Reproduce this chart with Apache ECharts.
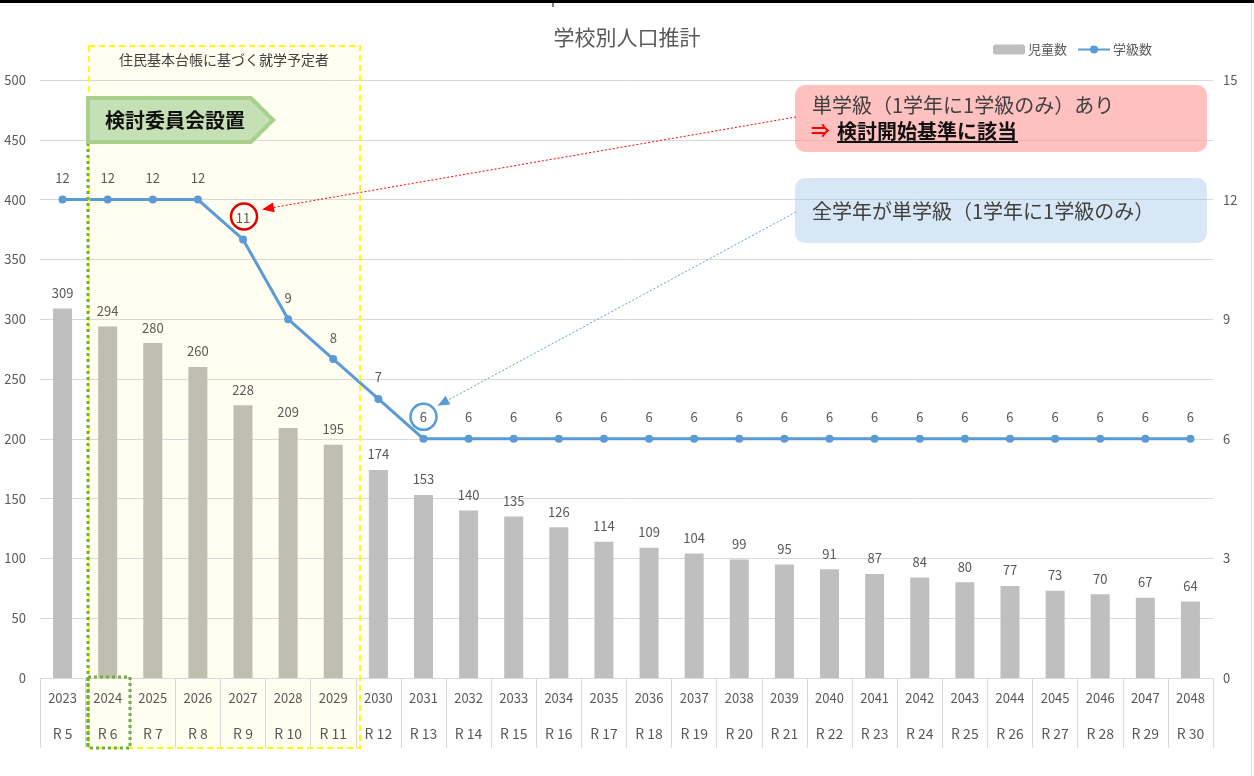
<!DOCTYPE html>
<html>
<head>
<meta charset="utf-8">
<script src="https://cdn.jsdelivr.net/npm/echarts@6/dist/echarts.min.js"></script>
<style>
  html, body { margin: 0; padding: 0; background: #fff; }
  #chart { width: 1254px; height: 776px; }
</style>
</head>
<body>
<div id="chart"></div>
<script>
var years = ['2023', '2024', '2025', '2026', '2027', '2028', '2029', '2030', '2031', '2032', '2033', '2034', '2035',
    '2036', '2037', '2038', '2039', '2040', '2041', '2042', '2043', '2044', '2045', '2046', '2047', '2048'];
var reiwa = ['R 5', 'R 6', 'R 7', 'R 8', 'R 9', 'R 10', 'R 11', 'R 12', 'R 13', 'R 14', 'R 15', 'R 16', 'R 17',
    'R 18', 'R 19', 'R 20', 'R 21', 'R 22', 'R 23', 'R 24', 'R 25', 'R 26', 'R 27', 'R 28', 'R 29', 'R 30'];
var pupils = [309, 294, 280, 260, 228, 209, 195, 174, 153, 140, 135, 126, 114, 109, 104, 99, 95, 91, 87, 84, 80, 77, 73, 70, 67, 64];
var classes = [12, 12, 12, 12, 11, 9, 8, 7, 6, 6, 6, 6, 6, 6, 6, 6, 6, 6, 6, 6, 6, 6, 6, 6, 6, 6];

var FONT = "'Noto Sans CJK JP', 'Noto Sans', sans-serif";
var GREY_TXT = '#595959';
var BAR_GREY = '#bfbfbf';
var BLUE = '#5b9bd5';

var chart = echarts.init(document.getElementById('chart'));

var option = {
    animation: false,
    backgroundColor: '#fff',
    color: [BAR_GREY, BLUE],
    textStyle: { fontFamily: FONT },
    title: {
        text: '学校別人口推計',
        left: 'center',
        top: 22,
        textStyle: { fontSize: 21, fontWeight: 'normal', color: GREY_TXT, fontFamily: FONT }
    },
    legend: {
        left: 988,
        top: 38,
        itemWidth: 32,
        itemHeight: 10,
        itemGap: 10,
        textStyle: { fontSize: 13, color: GREY_TXT, padding: [0, 0, 0, -2] },
        data: [
            { name: '児童数', itemStyle: { color: BAR_GREY } },
            { name: '学級数' }
        ]
    },
    grid: { left: 40, right: 41, top: 80, bottom: 98 },
    xAxis: {
        type: 'category',
        data: years,
        axisLine: { lineStyle: { color: '#d9d9d9' } },
        axisTick: { show: true, interval: 0, length: 70, lineStyle: { color: '#d9d9d9' } },
        axisLabel: {
            interval: 0,
            margin: 3,
            formatter: function (v, i) {
                return '{y|' + v + '}\n{r|' + reiwa[i] + '}';
            },
            rich: {
                y: { fontSize: 13, color: GREY_TXT, lineHeight: 35 },
                r: { fontSize: 14, color: GREY_TXT, lineHeight: 35 }
            }
        }
    },
    yAxis: [
        {
            type: 'value', min: 0, max: 500, interval: 50,
            axisLine: { show: false }, axisTick: { show: false },
            axisLabel: { fontSize: 13, color: GREY_TXT, margin: 14 },
            splitLine: { lineStyle: { color: '#d9d9d9' } }
        },
        {
            type: 'value', min: 0, max: 15, interval: 3,
            axisLine: { show: false }, axisTick: { show: false },
            axisLabel: { fontSize: 13, color: GREY_TXT, margin: 10 },
            splitLine: { show: false }
        }
    ],
    series: [
        {
            name: '児童数',
            type: 'bar',
            data: pupils,
            barWidth: 19,
            itemStyle: {
                color: function (p) {
                    return (p.dataIndex >= 1 && p.dataIndex <= 6) ? '#c0beb1' : BAR_GREY;
                }
            },
            label: { show: true, position: 'top', distance: 9, fontSize: 13, color: GREY_TXT }
        },
        {
            name: '学級数',
            type: 'line',
            yAxisIndex: 1,
            data: classes,
            z: 5,
            symbol: 'circle',
            symbolSize: 8,
            itemStyle: { color: BLUE },
            lineStyle: { color: BLUE, width: 3 },
            label: { show: true, position: 'top', distance: 11, fontSize: 13, color: GREY_TXT }
        }
    ]
};

chart.setOption(option);

// helper: dotted arrow line with a triangle head at (x2, y2)
var arrow = function (x1, y1, x2, y2, color) {
    var ang = Math.atan2(y2 - y1, x2 - x1);
    var len = 12, half = 5;
    var bx = x2 - len * Math.cos(ang), by = y2 - len * Math.sin(ang);
    var px = -Math.sin(ang) * half, py = Math.cos(ang) * half;
    return [
        {
            type: 'line', z: 20,
            shape: { x1: x1, y1: y1, x2: bx, y2: by },
            style: { stroke: color, lineWidth: 1, lineDash: [2, 2] }
        },
        {
            type: 'polygon', z: 20,
            shape: { points: [[x2, y2], [bx + px, by + py], [bx - px, by - py]] },
            style: { fill: color }
        }
    ];
};

// positions of the marked points
var p11 = chart.convertToPixel({ seriesIndex: 1 }, [4, classes[4]]);
var p6 = chart.convertToPixel({ seriesIndex: 1 }, [8, classes[8]]);
var c11 = [p11[0] + 1, p11[1] - 23];
var c6 = [p6[0], p6[1] - 22];

var graphics = [
    // top border of the screenshot
    { type: 'rect', z: 30, shape: { x: 0, y: 0, width: 1254, height: 3 }, style: { fill: '#000' } },
    { type: 'line', z: 30, shape: { x1: 553, y1: 0, x2: 553, y2: 7 }, style: { stroke: '#000', lineWidth: 1 } },
    { type: 'line', z: 30, shape: { x1: 1251.5, y1: 3, x2: 1251.5, y2: 776 }, style: { stroke: '#e0e0e0', lineWidth: 1 } },

    // yellow box: fill behind, dashed frame on top
    { type: 'rect', z: -1, shape: { x: 89, y: 46, width: 271, height: 702 }, style: { fill: '#fffef0' } },
    { type: 'rect', z: 10, shape: { x: 89, y: 46, width: 271, height: 702 }, style: { fill: null, stroke: '#ffff00', lineWidth: 2, lineDash: [6, 4] } },
    {
        type: 'text', z: 10,
        style: { text: '住民基本台帳に基づく就学予定者', x: 224, y: 60, align: 'center', verticalAlign: 'middle', fontSize: 14, fontFamily: FONT, fill: '#404040' }
    },

    // green dotted marker for 2024
    { type: 'line', z: 12, shape: { x1: 88, y1: 143, x2: 88, y2: 748 }, style: { stroke: '#70ad47', lineWidth: 3, lineDash: [3, 3] } },
    { type: 'rect', z: 12, shape: { x: 88, y: 677, width: 42, height: 71 }, style: { fill: null, stroke: '#70ad47', lineWidth: 3, lineDash: [3, 3] } },

    // pentagon label
    {
        type: 'polygon', z: 15,
        shape: { points: [[88, 98], [251, 98], [273, 120], [251, 142], [88, 142]] },
        style: { fill: '#c5e0b4', stroke: '#a9d18e', lineWidth: 4 }
    },
    {
        type: 'text', z: 16,
        style: { text: '検討委員会設置', x: 105, y: 120, verticalAlign: 'middle', fontSize: 20, fontWeight: 'bold', fontFamily: FONT, fill: '#111' }
    },

    // red note
    { type: 'rect', z: 8, shape: { x: 795, y: 85, width: 412, height: 67, r: 10 }, style: { fill: 'rgba(255,150,150,0.6)' } },
    {
        type: 'text', z: 9,
        style: { text: '単学級（1学年に1学級のみ）あり', x: 812, y: 105, verticalAlign: 'middle', fontSize: 20, fontFamily: FONT, fill: '#404040' }
    },
    {
        type: 'text', z: 9,
        style: { text: '⇒', x: 811, y: 131, verticalAlign: 'middle', fontSize: 19, fontWeight: 'bold', fontFamily: FONT, fill: '#ff0000' }
    },
    {
        type: 'text', z: 9,
        style: { text: '検討開始基準に該当', x: 837, y: 131, verticalAlign: 'middle', fontSize: 20, fontWeight: 'bold', fontFamily: FONT, fill: '#111' }
    },
    { type: 'line', z: 9, shape: { x1: 837, y1: 142, x2: 1018, y2: 142 }, style: { stroke: '#111', lineWidth: 2 } },

    // blue note
    { type: 'rect', z: 8, shape: { x: 795, y: 178, width: 412, height: 65, r: 10 }, style: { fill: 'rgba(155,194,230,0.4)' } },
    {
        type: 'text', z: 9,
        style: { text: '全学年が単学級（1学年に1学級のみ）', x: 812, y: 211, verticalAlign: 'middle', fontSize: 20, fontFamily: FONT, fill: '#404040' }
    },

    // circles around the marked labels
    { type: 'circle', z: 20, shape: { cx: c11[0], cy: c11[1], r: 13 }, style: { fill: null, stroke: '#e00000', lineWidth: 2.5 } },
    { type: 'circle', z: 20, shape: { cx: c6[0], cy: c6[1], r: 13 }, style: { fill: null, stroke: BLUE, lineWidth: 2.5 } }
];

graphics = graphics
    .concat(arrow(796, 117, c11[0] + 18, c11[1] - 7, '#ff0000'))
    .concat(arrow(796, 212, c6[0] + 14, c6[1] - 11, BLUE));

chart.setOption({ graphic: graphics });
</script>
</body>
</html>
